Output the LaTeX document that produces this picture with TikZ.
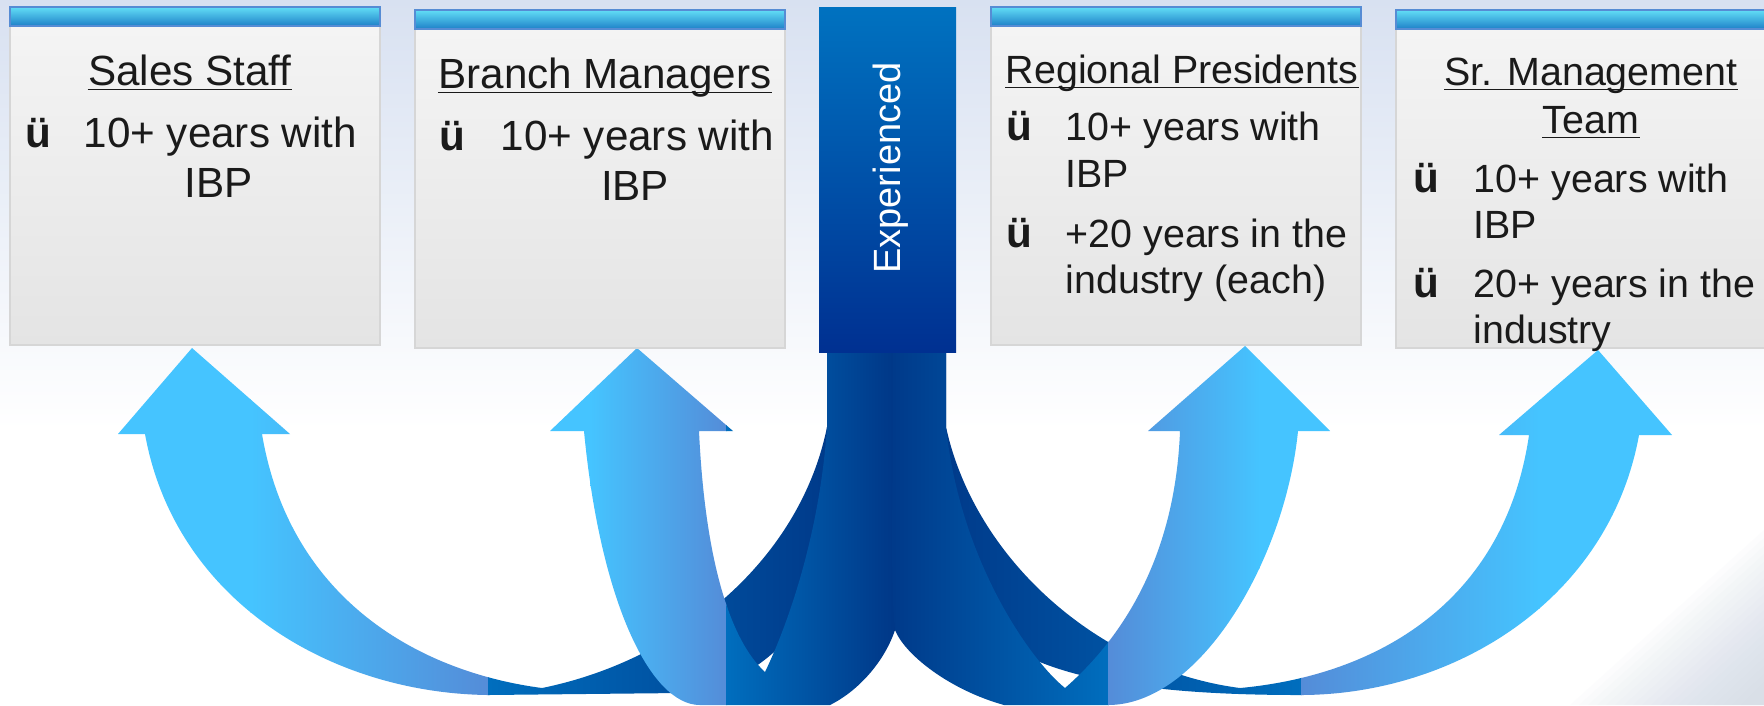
\documentclass[tikz,border=0pt]{standalone}
\usepackage{fontspec}
\setmainfont{Liberation Sans}

\definecolor{ink}{RGB}{26,26,26}
\definecolor{bgtop}{RGB}{216,225,241}
\definecolor{bgcorner}{RGB}{205,213,228}
\definecolor{panelA}{RGB}{244,244,244}
\definecolor{panelB}{RGB}{228,228,228}
\definecolor{panelrule}{RGB}{214,214,214}
\definecolor{barA}{RGB}{98,222,246}
\definecolor{barB}{RGB}{30,128,200}
\definecolor{barrule}{RGB}{86,140,212}
\definecolor{expA}{RGB}{0,114,192}
\definecolor{expB}{RGB}{0,48,145}
\definecolor{cyanup}{RGB}{69,196,255}
\definecolor{softblue}{RGB}{84,140,216}
\definecolor{twistblue}{RGB}{0,110,190}
\definecolor{navy}{RGB}{0,50,130}

\begin{document}
\begin{tikzpicture}[x=0.01cm, y=-0.01cm,
    txt/.style={font=\fontsize{12}{14}\selectfont, text=ink, inner sep=0pt},
    txts/.style={font=\fontsize{11.2}{13}\selectfont, text=ink, inner sep=0pt},
    tick/.style={font=\fontsize{12}{14}\selectfont\bfseries, text=ink, inner sep=0pt, anchor=base west},
    panel/.style={draw=panelrule, line width=0.5pt, top color=panelA, bottom color=panelB},
    panelbar/.style={draw=barrule, line width=0.5pt, top color=barA, bottom color=barB},
    uline/.style={draw=ink, line width=0.45pt}]

    % Фон
    \clip (0,0) rectangle (1764,705);
    \fill[white] (0,0) rectangle (1764,705);
    \shade[top color=bgtop, bottom color=white] (0,0) rectangle (1764,430);
    % серый угол справа внизу
    \foreach \k in {0,...,19}
        \fill[bgcorner, opacity=0.05] (1570+9*\k,705) -- (1764,530+8*\k) -- (1764,705) -- cycle;

    % Контуры лент (ствол -> петля -> стрелка)
    \def\ribA{(827,330) -- (827,427) .. controls (800,560) and (680,660) .. (542,688)
        .. controls (420,672) and (290,600) .. (262,434) -- (290,434) -- (192,348) -- (118,434) -- (145,434)
        .. controls (175,600) and (330,693) .. (488,695) -- (680,693)
        .. controls (780,690) and (870,560) .. (870,430) -- (870,330) -- cycle}
    \def\ribB{(827,330) -- (827,427) .. controls (820,530) and (790,620) .. (765,672)
        .. controls (730,640) and (705,560) .. (699,431) -- (733,431) -- (637,348) -- (550,431) -- (584,431)
        .. controls (600,600) and (650,705) .. (700,705) -- (830,705)
        .. controls (860,690) and (885,660) .. (895,630)
        .. controls (900,590) and (898,470) .. (897,430) -- (897,330) -- cycle}
    \def\ribC{(946,330) -- (946,427) .. controls (960,560) and (1030,660) .. (1065,688)
        .. controls (1120,640) and (1175,560) .. (1180,431) -- (1148,431) -- (1245,346) -- (1330,431) -- (1298,431)
        .. controls (1285,560) and (1200,705) .. (1108,705) -- (1004,705)
        .. controls (950,690) and (905,655) .. (895,630)
        .. controls (890,590) and (893,470) .. (893,430) -- (893,330) -- cycle}
    \def\ribD{(946,330) -- (946,427) .. controls (975,560) and (1100,670) .. (1240,688)
        .. controls (1380,675) and (1505,600) .. (1529,435) -- (1499,435) -- (1598,350) -- (1672,435) -- (1639,435)
        .. controls (1609,600) and (1454,695) .. (1300,695)
        .. controls (1200,695) and (1100,688) .. (1035,660)
        .. controls (950,610) and (910,500) .. (905,430) -- (905,330) -- cycle}

    % Задние ленты
    \begin{scope}
        \clip \ribA;
        \fill[cyanup] (100,330) rectangle (251,710);
        \shade[left color=cyanup, right color=softblue] (250,330) rectangle (489,710);
        \shade[left color=twistblue, right color=navy] (488,330) rectangle (880,710);
    \end{scope}
    \begin{scope}
        \clip \ribD;
        \shade[left color=navy, right color=twistblue] (890,330) rectangle (1302,710);
        \shade[left color=softblue, right color=cyanup] (1301,330) rectangle (1540,710);
        \fill[cyanup] (1539,330) rectangle (1680,710);
    \end{scope}

    % Передние ленты
    \begin{scope}
        \clip \ribB;
        \fill[cyanup] (540,330) rectangle (591,710);
        \shade[left color=cyanup, right color=softblue] (590,330) rectangle (727,710);
        \shade[left color=twistblue, right color=navy] (726,330) rectangle (910,710);
    \end{scope}
    \begin{scope}
        \clip \ribC;
        \shade[left color=navy, right color=twistblue] (860,330) rectangle (1109,710);
        \shade[left color=softblue, right color=cyanup] (1108,330) rectangle (1260,710);
        \fill[cyanup] (1259,330) rectangle (1340,710);
    \end{scope}

    % Карточки
    \foreach \xa/\ya in {10/7, 415/10, 991/7, 1396/10}{
        \draw[panel] (\xa,\ya+19) rectangle (\xa+370,\ya+338);
        \draw[panelbar] (\xa,\ya) rectangle (\xa+370,\ya+19);
    }

    % Центральный блок
    \shade[top color=expA, bottom color=expB] (819,7) rectangle (956,352);
    \node[rotate=90, anchor=base, text=white, font=\fontsize{10.8}{13}\selectfont, inner sep=0pt] (exp) at (900,168) {Experienced};

    % Sales Staff
    \node[txt, anchor=base] (ssT) at (190,85) {Sales Staff};
    \node[tick] (ssC) at (25,147) {ü};
    \node[txt, anchor=base west] (ss1) at (83,147) {10+ years with};
    \node[txt, anchor=base] (ss2) at (219,197) {IBP};

    % Branch Managers
    \node[txt, anchor=base] (bmT) at (605,88) {Branch Managers};
    \node[tick] (bmC) at (439,150) {ü};
    \node[txt, anchor=base west] (bm1) at (500,150) {10+ years with};
    \node[txt, anchor=base] (bm2) at (635,200) {IBP};

    % Regional Presidents
    \node[txts, anchor=base] (rpT) at (1182,83) {Regional Presidents};
    \node[tick] (rpC1) at (1006,140) {ü};
    \node[txts, anchor=base west] (rp1) at (1065,140) {10+ years with};
    \node[txts, anchor=base west] (rp2) at (1065,187) {IBP};
    \node[tick] (rpC2) at (1006,247) {ü};
    \node[txts, anchor=base west] (rp3) at (1065,247) {+20 years in the};
    \node[txts, anchor=base west] (rp4) at (1065,293) {industry (each)};

    % Sr. Management Team
    \node[txts, anchor=base] (smT1) at (1591,85) {Sr. Management};
    \node[txts, anchor=base] (smT2) at (1591,133) {Team};
    \node[tick] (smC1) at (1413,192) {ü};
    \node[txts, anchor=base west] (sm1) at (1473,192) {10+ years with};
    \node[txts, anchor=base west] (sm2) at (1473,238) {IBP};
    \node[tick] (smC2) at (1413,297) {ü};
    \node[txts, anchor=base west] (sm3) at (1473,297) {20+ years in the};
    \node[txts, anchor=base west] (sm4) at (1473,343) {industry};

    % Подчёркивания заголовков
    \foreach \n in {ssT,bmT,rpT,smT1,smT2}
        \draw[uline] ([yshift=-1.3pt]\n.base west) -- ([yshift=-1.3pt]\n.base east);

\end{tikzpicture}
\end{document}
